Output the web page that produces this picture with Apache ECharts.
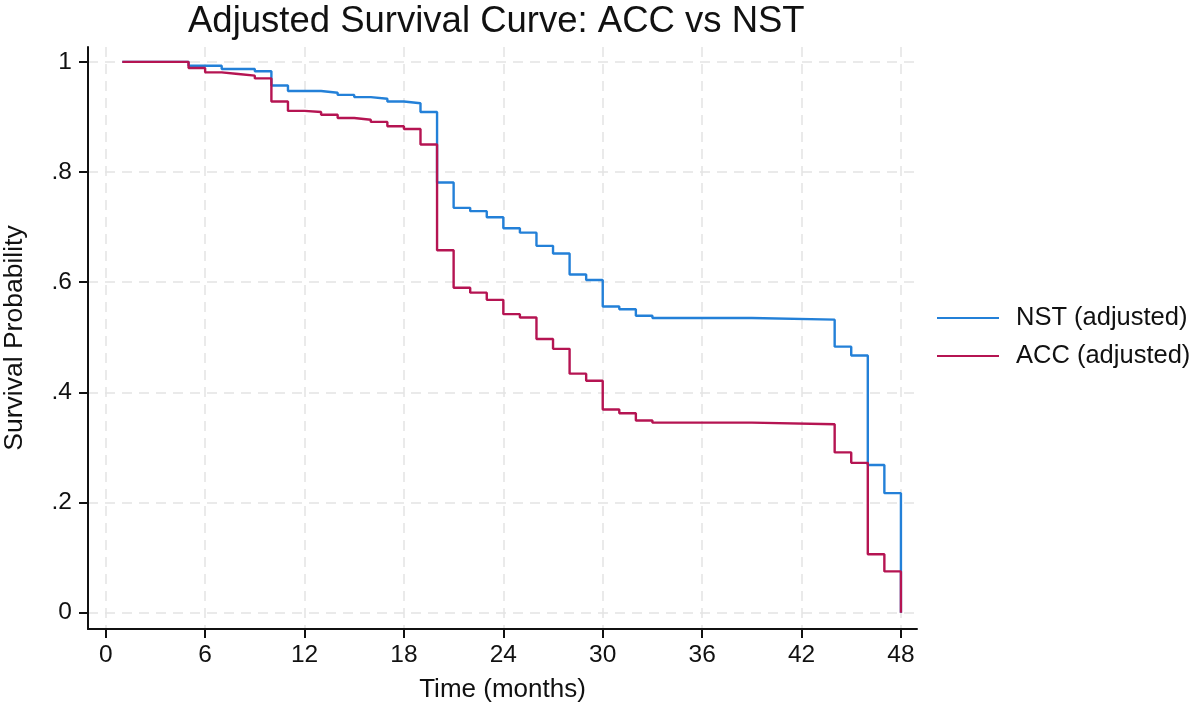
<!DOCTYPE html>
<html>
<head>
<meta charset="utf-8">
<script src="https://cdn.jsdelivr.net/npm/echarts@6/dist/echarts.min.js"></script>
<style>
  html, body { margin: 0; padding: 0; background: #fff; }
  #chart { width: 1200px; height: 711px; }
</style>
</head>
<body>
<div id="chart"></div>
<script>
// ---- Data ----
const nstTimes  = [1, 5, 7, 9, 10, 11, 13, 14, 15, 16, 17, 18, 19, 20, 21, 22, 23, 24, 25, 26, 27, 28, 29, 30, 31, 32, 33, 39, 44, 45, 46, 47, 48];
const nstSurv   = [1.0, 0.993, 0.987, 0.983, 0.957, 0.947, 0.944, 0.940, 0.936, 0.933, 0.928, 0.925, 0.909, 0.781, 0.735, 0.729, 0.718, 0.698, 0.690, 0.666, 0.652, 0.614, 0.604, 0.556, 0.551, 0.539, 0.535, 0.532, 0.483, 0.467, 0.268, 0.217, 0.0];
const accTimes  = [1, 5, 6, 7, 8, 9, 10, 11, 12, 13, 14, 15, 16, 17, 18, 19, 20, 21, 22, 23, 24, 25, 26, 27, 28, 29, 30, 31, 32, 33, 39, 44, 45, 46, 47, 48];
const accSurv   = [1.0, 0.989, 0.981, 0.978, 0.975, 0.970, 0.928, 0.911, 0.909, 0.904, 0.898, 0.895, 0.891, 0.883, 0.878, 0.850, 0.658, 0.590, 0.581, 0.568, 0.542, 0.536, 0.497, 0.479, 0.434, 0.421, 0.369, 0.362, 0.349, 0.345, 0.342, 0.291, 0.272, 0.106, 0.075, 0.0];
const xTicks      = [0, 6, 12, 18, 24, 30, 36, 42, 48];
const yTicks      = [0, 0.2, 0.4, 0.6, 0.8, 1];
const yTickLabels = ['0', '.2', '.4', '.6', '.8', '1'];
const seriesNames = ['NST (adjusted)', 'ACC (adjusted)'];

const FONT = "'Liberation Sans', Arial, Helvetica, sans-serif";
const toPairs = (xs, ys) => xs.map((x, i) => [x, ys[i]]);

const chart = echarts.init(document.getElementById('chart'), null, { renderer: 'canvas' });
chart.setOption({
  backgroundColor: '#ffffff',
  animation: false,
  textStyle: { fontFamily: FONT, color: '#111' },
  title: {
    text: 'Adjusted Survival Curve: ACC vs NST',
    left: 183, top: -2,
    textStyle: { fontFamily: FONT, fontSize: 36.5, fontWeight: 'normal', color: '#111' }
  },
  legend: {
    orient: 'vertical',
    left: 932, top: 299,
    itemWidth: 62, itemHeight: 14, itemGap: 10,
    icon: 'path://M0,6 L62,6 L62,8 L0,8 Z',
    data: seriesNames,
    textStyle: { fontFamily: FONT, fontSize: 25.5, color: '#111', lineHeight: 28, padding: [0, 0, 0, 12] }
  },
  grid: { left: 88, right: 283, top: 47, bottom: 82, containLabel: false, outerBoundsMode: 'none' },
  xAxis: {
    type: 'value',
    min: -1.07, max: 48.97,
    name: 'Time (months)',
    nameLocation: 'middle', nameGap: 48,
    nameTextStyle: { fontFamily: FONT, fontSize: 26, color: '#111' },
    axisLine: { show: true, onZero: false, lineStyle: { color: '#111', width: 2 } },
    axisTick: { show: true, length: 9, customValues: xTicks, lineStyle: { color: '#111', width: 2 } },
    axisLabel: { customValues: xTicks, fontFamily: FONT, fontSize: 24.5, color: '#111', margin: 14,
                 showMinLabel: true, showMaxLabel: true },
    splitLine: { show: true, lineStyle: { color: '#e4e4e4', width: 1.5, type: [10, 7] } }
  },
  yAxis: {
    type: 'value',
    min: -0.0296, max: 1.027,
    name: 'Survival Probability',
    nameLocation: 'middle', nameGap: 60, nameRotate: 90,
    nameTextStyle: { fontFamily: FONT, fontSize: 26.5, color: '#111' },
    axisLine: { show: true, onZero: false, lineStyle: { color: '#111', width: 2 } },
    axisTick: { show: true, length: 9, customValues: yTicks, lineStyle: { color: '#111', width: 2 } },
    axisLabel: { customValues: yTicks, fontFamily: FONT, fontSize: 24.5, color: '#111', margin: 16,
                 formatter: v => { const i = yTicks.findIndex(t => Math.abs(t - v) < 1e-9); return i >= 0 ? yTickLabels[i] : ''; } },
    splitLine: { show: true, lineStyle: { color: '#e4e4e4', width: 1.5, type: [10, 7] } }
  },
  series: [
    {
      name: seriesNames[0], type: 'line', step: 'end',
      data: toPairs(nstTimes, nstSurv),
      symbol: 'none', color: '#2380d8',
      lineStyle: { width: 2.4, color: '#2380d8' }
    },
    {
      name: seriesNames[1], type: 'line', step: 'end',
      data: toPairs(accTimes, accSurv),
      symbol: 'none', color: '#b51452',
      lineStyle: { width: 2.4, color: '#b51452' }
    }
  ]
});
</script>
</body>
</html>
